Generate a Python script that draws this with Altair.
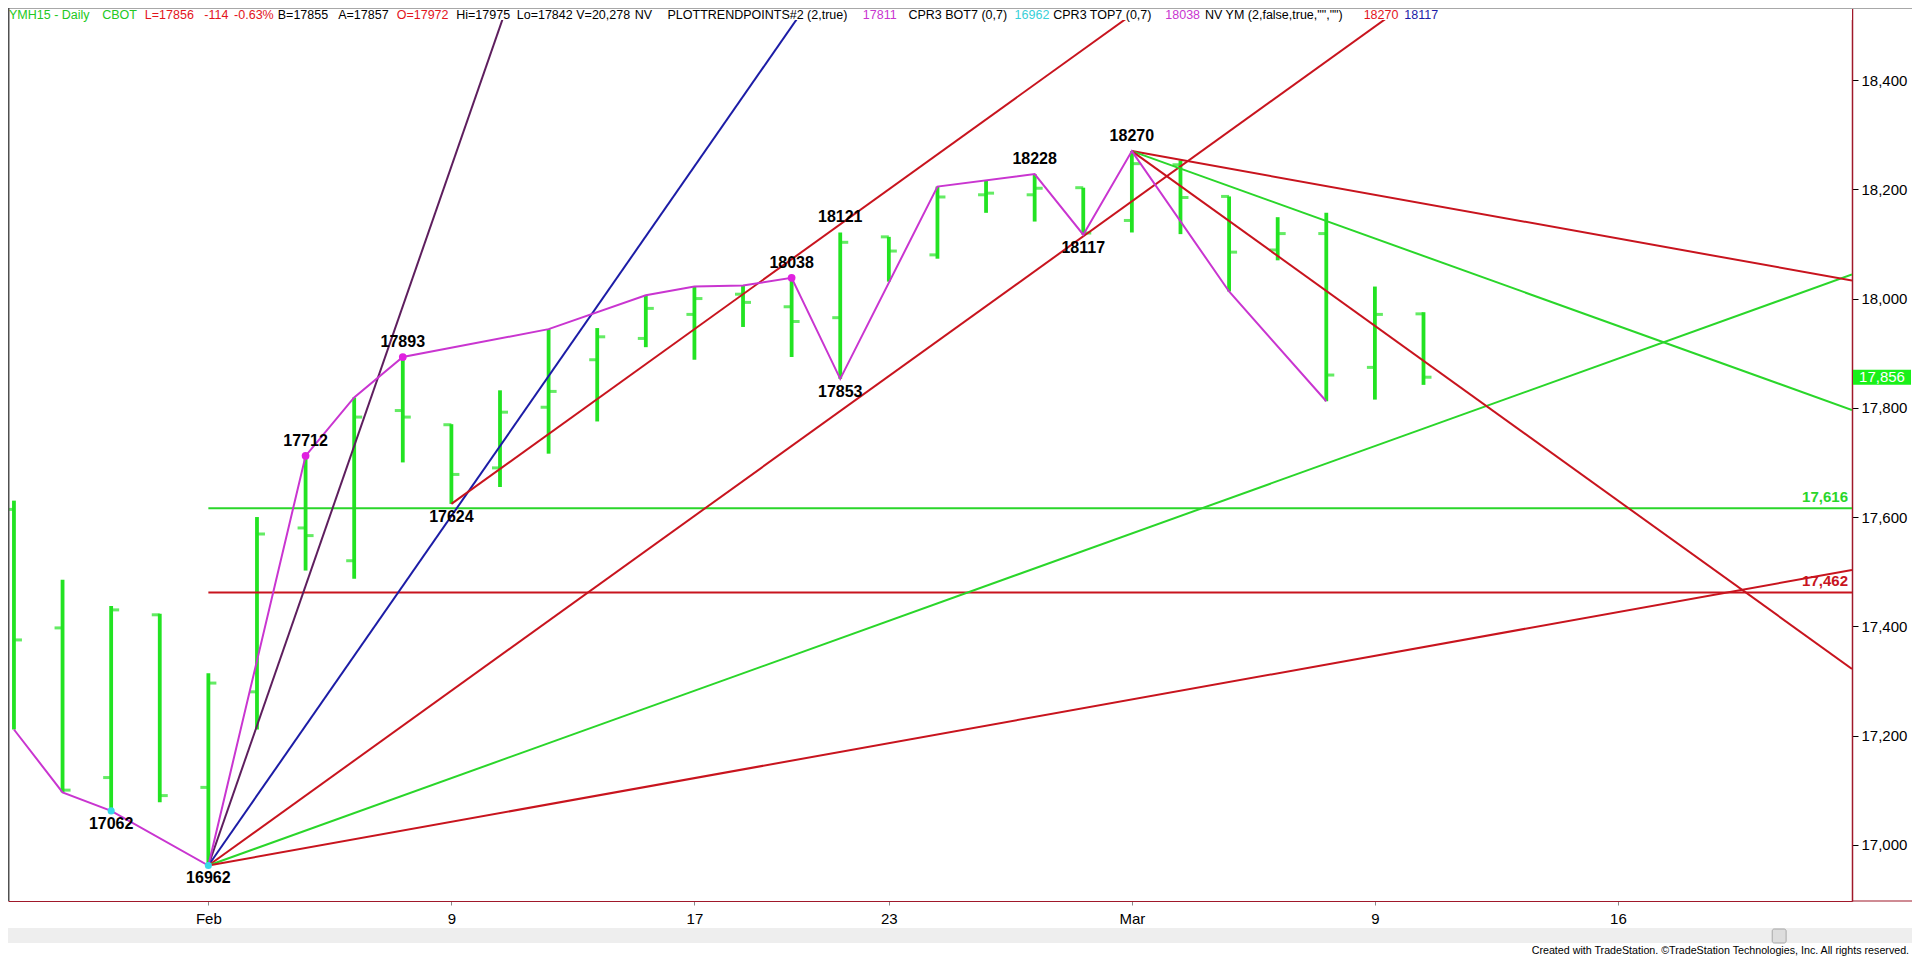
import altair as alt
import pandas as pd

# ---------------- data ----------------
dates = ["Jan 27", "Jan 28", "Jan 29", "Jan 30", "Feb 2", "Feb 3", "Feb 4", "Feb 5", "Feb 6",
         "Feb 9", "Feb 10", "Feb 11", "Feb 12", "Feb 13", "Feb 17", "Feb 18", "Feb 19", "Feb 20",
         "Feb 23", "Feb 24", "Feb 25", "Feb 26", "Feb 27", "Mar 2", "Mar 3", "Mar 4", "Mar 5",
         "Mar 6", "Mar 9", "Mar 10"]
opens = [17614, 17397, 17123, 17421, 17105, 17280, 17580, 17520, 17795, 17769, 17690, 17801,
         17888, 17927, 17971, 18008, 17985, 17965, 18113, 18080, 18190, 18190, 18203, 18143,
         18245, 18187, 18089, 18119, 17874, 17972]
highs = [17630, 17485, 17437, 17423, 17314, 17600, 17712, 17819, 17893, 17770, 17832, 17944,
         17946, 18006, 18022, 18024, 18038, 18121, 18113, 18205, 18217, 18228, 18203, 18270,
         18253, 18187, 18149, 18157, 18022, 17975]
lows = [17211, 17096, 17062, 17078, 16962, 17211, 17502, 17487, 17700, 17624, 17655, 17716,
        17775, 17911, 17888, 17948, 17893, 17853, 18031, 18073, 18157, 18141, 18117, 18121,
        18118, 18013, 18070, 17812, 17815, 17842]
closes = [17375, 17100, 17430, 17090, 17296, 17569, 17566, 17783, 17783, 17678, 17792, 17830,
          17930, 17982, 18000, 17993, 17958, 18103, 18087, 18186, 18193, 18202, 18120, 18247,
          18185, 18085, 18119, 17860, 17971, 17856]

x_tick_idx = [4, 9, 14, 18, 23, 28, 33]
x_tick_lbl = ["Feb", "9", "17", "23", "Mar", "9", "16"]
y_ticks = [17000, 17200, 17400, 17600, 17800, 18000, 18200, 18400]

# zigzag (trend points) line
pivot_idx = [0, 1, 2, 4, 6, 7, 8, 11, 13, 14, 15, 16, 17, 19, 21, 22, 23, 25, 27]
pivot_px = [17211, 17096, 17062, 16962, 17712, 17819, 17893, 17944, 18006, 18022, 18024,
            18038, 17853, 18205, 18228, 18117, 18270, 18013, 17812]

above_idx = [6, 8, 16, 17, 21, 23]
above_px = [17712, 17893, 18038, 18121, 18228, 18270]
below_idx = [2, 4, 9, 17, 22]
below_px = [17062, 16962, 17624, 17853, 18117]

mag_dot_idx = [6, 8, 16]
mag_dot_px = [17712, 17893, 18038]
cyan_dot_idx = [2, 4]
cyan_dot_px = [17062, 16962]

level_px = [17616, 17462]
level_lbl = ["17,616", "17,462"]
level_start = 4

# trend lines: start bar, start price, end bar, end price
tl_x0 = [4, 4, 4, 4, 4, 9, 23, 23, 23]
tl_p0 = [16962, 16962, 16962, 16962, 16962, 17624, 18270, 18270, 18270]
tl_x1 = [11, 17, 30, 37.816, 37.816, 24, 37.816, 37.816, 37.816]
tl_p1 = [18754, 18626, 18626, 18044, 17503, 18584, 18033, 17796, 17322]

last_price = 17856
last_label = "17,856"

X_MIN, X_MAX = -0.1224, 37.816
Y_MIN, Y_MAX = 16897, 18532

# ---------------- styles / layout ----------------
GREEN_BAR = "#22e322"
GREEN_LN = "#2ad62a"
RED_LN = "#c8141e"
PURPLE = "#5e1e5e"
BLUE = "#1c1ca6"
MAG = "#c935d0"
CYAN = "#38d8e8"
AXRED = "#a0182a"
tl_color = [PURPLE, BLUE, RED_LN, GREEN_LN, RED_LN, RED_LN, RED_LN, GREEN_LN, RED_LN]
level_color = [GREEN_LN, RED_LN]

SX, SY = 0.9917, 0.9834
W, H = 1844, 893
FONT = "Liberation Sans, Arial"

xs = alt.Scale(domain=[X_MIN, X_MAX], nice=False, zero=False)
ys = alt.Scale(domain=[Y_MIN, Y_MAX], nice=False, zero=False)

label_expr = "".join(f"datum.value == {i} ? '{t}' : " for i, t in zip(x_tick_idx, x_tick_lbl)) + "''"

x_axis = alt.Axis(orient="bottom", values=x_tick_idx, labelExpr=label_expr, tickSize=4,
                  tickColor="#888888", domainColor=AXRED, domainWidth=1.2, labelFont=FONT,
                  labelFontSize=15, labelColor="#000000", labelPadding=6, grid=False,
                  title=None, labelOverlap=False)
y_axis = alt.Axis(orient="right", values=y_ticks, labelExpr="format(datum.value, ',')",
                  tickSize=6, tickColor="#000000",
                  domainColor=AXRED, domainWidth=1.5, labelFont=FONT, labelFontSize=15,
                  labelColor="#000000", labelPadding=3, grid=False, title=None,
                  labelOverlap=False)


def X(f):
    return alt.X(f, scale=xs, axis=x_axis, title=None)


def Y(f):
    return alt.Y(f, scale=ys, axis=y_axis, title=None)


bars = pd.DataFrame({"i": list(range(len(dates))), "d": dates, "o": opens, "h": highs,
                     "l": lows, "c": closes})
base = alt.Chart(bars)

hl = base.mark_rule(color=GREEN_BAR, strokeWidth=3.8).encode(x=X("i:Q"), y=Y("l:Q"), y2="h:Q")
open_t = base.mark_tick(orient="horizontal", size=8, thickness=3, color=GREEN_BAR,
                        xOffset=-4).encode(x=X("i:Q"), y=Y("o:Q"))
close_t = base.mark_tick(orient="horizontal", size=8, thickness=3, color=GREEN_BAR,
                         xOffset=4).encode(x=X("i:Q"), y=Y("c:Q"))

lv = pd.DataFrame({"x0": [level_start] * len(level_px), "x1": [X_MAX] * len(level_px),
                   "p": level_px, "col": level_color, "lbl": level_lbl})
levels = alt.Chart(lv).mark_rule(strokeWidth=2).encode(
    x=X("x0:Q"), x2="x1:Q", y=Y("p:Q"), color=alt.Color("col:N", scale=None))
level_text = alt.Chart(lv).mark_text(align="right", baseline="bottom", dy=-3, font=FONT,
                                     fontSize=15, fontWeight="bold").encode(
    x=alt.value(W - 4), y=Y("p:Q"), text="lbl:N", color=alt.Color("col:N", scale=None))

tl = pd.DataFrame({"x0": tl_x0, "p0": tl_p0, "x1": tl_x1, "p1": tl_p1, "col": tl_color})
tlines = alt.Chart(tl).mark_rule(strokeWidth=2, clip=True).encode(
    x=X("x0:Q"), x2="x1:Q", y=Y("p0:Q"), y2="p1:Q", color=alt.Color("col:N", scale=None))

zz = pd.DataFrame({"i": pivot_idx, "p": pivot_px})
zig = alt.Chart(zz).mark_line(color=MAG, strokeWidth=2).encode(
    x=X("i:Q"), y=Y("p:Q"), order="i:Q")

md = pd.DataFrame({"i": mag_dot_idx, "p": mag_dot_px})
cd = pd.DataFrame({"i": cyan_dot_idx, "p": cyan_dot_px})
mdots = alt.Chart(md).mark_circle(size=60, opacity=1, color="#e020e0").encode(
    x=X("i:Q"), y=Y("p:Q"))
cdots = alt.Chart(cd).mark_circle(size=50, opacity=1, color=CYAN).encode(
    x=X("i:Q"), y=Y("p:Q"))

ab = pd.DataFrame({"i": above_idx, "p": above_px, "t": [str(v) for v in above_px]})
bl = pd.DataFrame({"i": below_idx, "p": below_px, "t": [str(v) for v in below_px]})
above_t = alt.Chart(ab).mark_text(baseline="bottom", dy=-7, font=FONT, fontSize=16,
                                  fontWeight="bold", color="#000000").encode(
    x=X("i:Q"), y=Y("p:Q"), text="t:N")
below_t = alt.Chart(bl).mark_text(baseline="top", dy=5, font=FONT, fontSize=16,
                                  fontWeight="bold", color="#000000").encode(
    x=X("i:Q"), y=Y("p:Q"), text="t:N")

# last price marker on the axis
lp = pd.DataFrame({"p": [last_price], "t": [last_label]})
lp_box = alt.Chart(lp).mark_rect(color="#19f019", yOffset=-7.5, y2Offset=7.5).encode(
    x=alt.value(W + 1), x2=alt.value(W + 59), y=Y("p:Q"), y2="p:Q")
lp_txt = alt.Chart(lp).mark_text(color="#ffffff", font=FONT, fontSize=15, align="center",
                                 baseline="middle").encode(
    x=alt.value(W + 30), y=Y("p:Q"), text="t:N")

# header strip
header_txt = ["YMH15 - Daily", "CBOT", "L=17856", "-114", "-0.63%", "B=17855", "A=17857",
              "O=17972", "Hi=17975", "Lo=17842", "V=20,278", "NV", "PLOTTRENDPOINTS#2 (2,true)",
              "17811", "CPR3 BOT7 (0,7)", "16962", "CPR3 TOP7 (0,7)", "18038",
              'NV YM (2,false,true,"","")', "18270", "18117"]
header_col = ["#22c822", "#22c822", "#e3141c", "#e3141c", "#e3141c", "#000000", "#000000",
              "#e3141c", "#000000", "#000000", "#000000", "#000000", "#000000",
              "#c935d0", "#000000", "#38d0d8", "#000000", "#c935d0", "#000000",
              "#e3141c", "#1c1ca6"]
header_x = [1, 95, 138, 198, 228, 272, 333, 392, 452, 513, 573, 632, 665, 862, 908, 1015,
            1054, 1167, 1207, 1367, 1408]
hd = pd.DataFrame({"t": header_txt, "c": header_col, "x": [v * SX for v in header_x]})
one = pd.DataFrame({"a": [0]})
header_bg = alt.Chart(one).mark_rect(color="#ffffff").encode(
    x=alt.value(0), x2=alt.value(W), y=alt.value(0), y2=alt.value(12))
header_line = alt.Chart(one).mark_rule(color="#a8a8a8", strokeWidth=1).encode(
    x=alt.value(0), x2=alt.value(W + 60), y=alt.value(0.5))
header = alt.Chart(hd).mark_text(align="left", baseline="middle", font=FONT,
                                 fontSize=12.5).encode(
    x=alt.X("x:Q", scale=None), y=alt.value(6.5), text="t:N",
    color=alt.Color("c:N", scale=None))

left_border = alt.Chart(one).mark_rule(color="#505050", strokeWidth=1.5).encode(
    x=alt.value(0.75), y=alt.value(0), y2=alt.value(H))
bottom_ext = alt.Chart(one).mark_rule(color=AXRED, strokeWidth=1.2).encode(
    x=alt.value(W), x2=alt.value(W + 60), y=alt.value(H))

# scrollbar + footer
scroll = alt.Chart(one).mark_rect(color="#eeeeee").encode(
    x=alt.value(0), x2=alt.value(W + 60), y=alt.value(920), y2=alt.value(935))
thumb = alt.Chart(one).mark_rect(color="#dddddd", stroke="#a8a8a8",
                                 strokeWidth=1, cornerRadius=2).encode(
    x=alt.value(1779 * SX), x2=alt.value(1793 * SX), y=alt.value(921), y2=alt.value(935))
footer = alt.Chart(pd.DataFrame({"t": ["Created with TradeStation. \u00a9TradeStation Technologies, Inc. All rights reserved."]})).mark_text(
    align="right", baseline="alphabetic", font=FONT, fontSize=10.7, color="#000000").encode(
    x=alt.value(1917 * SX), y=alt.value(946), text="t:N")

chart = alt.layer(
    hl, open_t, close_t, levels, tlines, zig, mdots, cdots, above_t, below_t, level_text,
    header_bg, header_line, header, left_border, bottom_ext, lp_box, lp_txt,
    scroll, thumb, footer
).properties(
    width=W, height=H,
    padding={"left": 0, "top": 0, "right": 60, "bottom": 55},
    autosize=alt.AutoSizeParams(type="none"),
).configure(background="#ffffff").configure_view(stroke=None)

chart.save("out.html", embed_options={"renderer": "svg", "actions": False})
